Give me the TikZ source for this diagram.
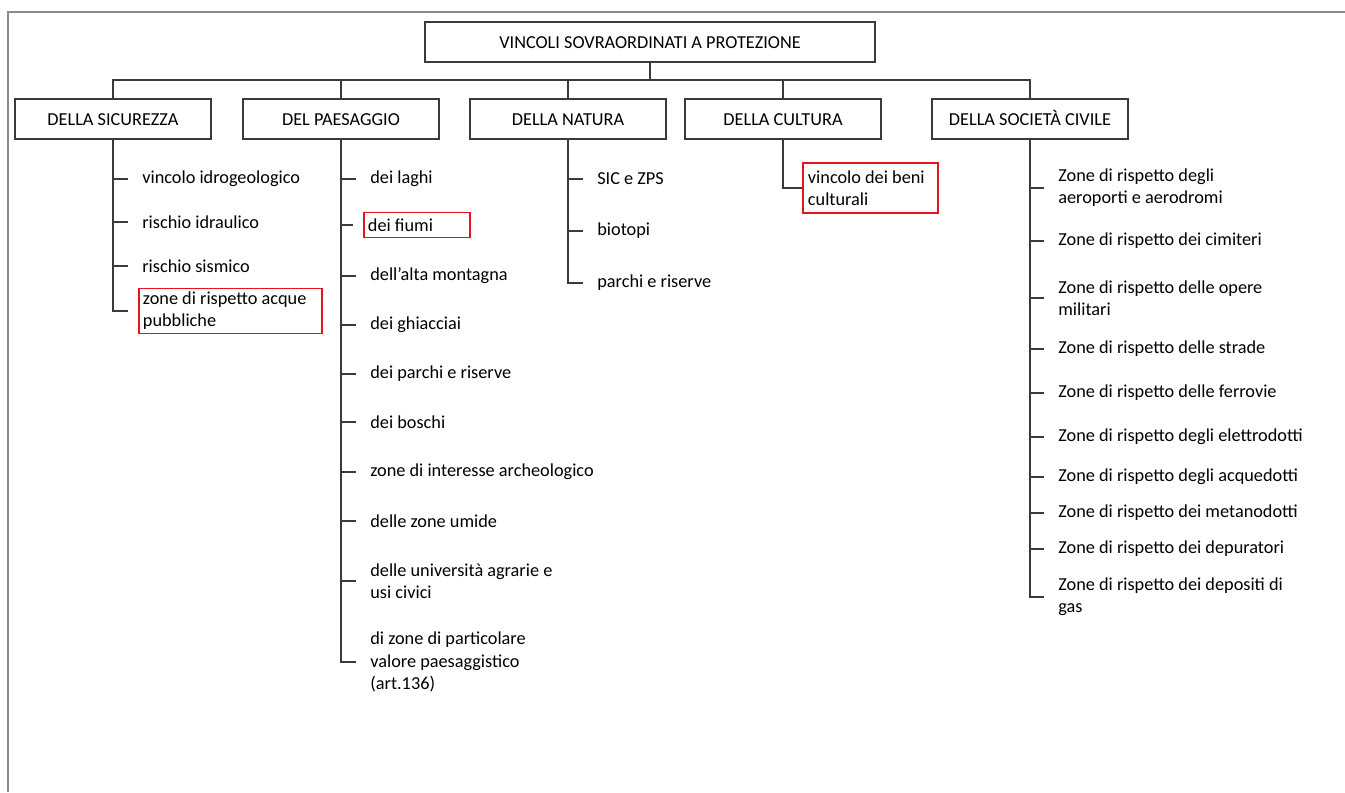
\documentclass[tikz,border=0pt]{standalone}
\usepackage{fontspec}
\setmainfont{Carlito}
\usepackage{tikz}
\usetikzlibrary{positioning}
\definecolor{LineDark}{HTML}{3A3A3A}
\definecolor{FrameGray}{HTML}{8A8A8A}
\definecolor{MarkRed}{HTML}{E8141B}
\tikzset{
  cat/.style={
    rectangle, draw=LineDark, line width=0.8pt,
    minimum width=3.92cm, minimum height=0.8cm,
    text height=6.9pt, text depth=0pt,
    inner sep=0pt, font=\fontsize{10.4}{12.6}\selectfont
  },
  item/.style={
    anchor=west, align=left, inner xsep=0.08cm, inner ysep=0pt,
    font=\fontsize{10.4}{12.6}\selectfont
  },
  hl/.style={item, draw=MarkRed, line width=1.1pt, text width=#1, align=flush left},
  link/.style={draw=LineDark, line width=1pt},
  frame/.style={draw=FrameGray, line width=1.1pt},
}
\begin{document}
\begin{tikzpicture}[x=0.02cm, y=-0.02cm]
\useasboundingbox (0,0) rectangle (1345,792);

% page frame
\draw[frame] (1345,12) -- (8,12) -- (8,792);

% root and categories
\node[cat, minimum width=9cm] at (650,42) (root) {VINCOLI SOVRAORDINATI A PROTEZIONE};
\node[cat] at (113,119) (sic) {DELLA SICUREZZA};
\node[cat] at (341,119) (pae) {DEL PAESAGGIO};
\node[cat] at (568,119) (nat) {DELLA NATURA};
\node[cat] at (783,119) (cul) {DELLA CULTURA};
\node[cat] at (1030,119) (soc) {DELLA SOCIETÀ CIVILE};

\coordinate (bus) at (650,80);
\draw[link] (root.south) -- (bus);
\draw[link] (sic.north) -- (sic.north |- bus) -- (soc.north |- bus) -- (soc.north);
\foreach \n in {pae,nat,cul}
  \draw[link] (\n.north) -- (\n.north |- bus);

% della sicurezza
\node[item] at (138,179) (s1) {vincolo idrogeologico};
\node[item] at (138,222) (s2) {rischio idraulico};
\node[item] at (138,266) (s3) {rischio sismico};
\node[hl=3.5cm, minimum height=0.9cm] at (138,311) (s4) {zone di rispetto acque\\pubbliche};
\foreach \i in {1,2,3}
  \draw[link] (s\i.west -| sic.south) -- ([xshift=-0.2cm]s\i.west);
\draw[link] (sic.south) |- ([xshift=-0.2cm]s4.west);

% del paesaggio
\node[item] at (366,179) (p1) {dei laghi};
\node[hl=1.96cm, minimum height=0.5cm] at (363,225) (p2) {dei fiumi};
\node[item] at (366,276) (p3) {dell’alta montagna};
\node[item] at (366,325) (p4) {dei ghiacciai};
\node[item] at (366,374) (p5) {dei parchi e riserve};
\node[item] at (366,422) (p6) {dei boschi};
\node[item] at (366,472) (p7) {zone di interesse archeologico};
\node[item] at (366,521) (p8) {delle zone umide};
\node[item] at (366,581) (p9) {delle università agrarie e\\usi civici};
\node[item] at (366,662) (p10) {di zone di particolare\\valore paesaggistico\\(art.136)};
\foreach \i in {1,...,9}
  \draw[link] (p\i.west -| pae.south) -- ([xshift=-0.2cm]p\i.west);
\draw[link] (pae.south) |- ([xshift=-0.2cm]p10.west);

% della natura
\node[item] at (593,179) (n1) {SIC e ZPS};
\node[item] at (593,231) (n2) {biotopi};
\node[item] at (593,283) (n3) {parchi e riserve};
\foreach \i in {1,2}
  \draw[link] (n\i.west -| nat.south) -- ([xshift=-0.2cm]n\i.west);
\draw[link] (nat.south) |- ([xshift=-0.2cm]n3.west);

% della cultura
\node[hl=2.5cm, minimum height=1cm, inner xsep=0.1cm] at (802,188) (c1) {vincolo dei beni\\culturali};
\draw[link] (cul.south) |- (c1.west);

% della societa civile
\node[item] at (1054,188) (v1) {Zone di rispetto degli\\aeroporti e aerodromi};
\node[item] at (1054,241) (v2) {Zone di rispetto dei cimiteri};
\node[item] at (1054,298) (v3) {Zone di rispetto delle opere\\militari};
\node[item] at (1054,349) (v4) {Zone di rispetto delle strade};
\node[item] at (1054,393) (v5) {Zone di rispetto delle ferrovie};
\node[item] at (1054,437) (v6) {Zone di rispetto degli elettrodotti};
\node[item] at (1054,477) (v7) {Zone di rispetto degli acquedotti};
\node[item] at (1054,513) (v8) {Zone di rispetto dei metanodotti};
\node[item] at (1054,549) (v9) {Zone di rispetto dei depuratori};
\node[item] at (1054,597) (v10) {Zone di rispetto dei depositi di\\gas};
\foreach \i in {1,...,9}
  \draw[link] (v\i.west -| soc.south) -- ([xshift=-0.2cm]v\i.west);
\draw[link] (soc.south) |- ([xshift=-0.2cm]v10.west);

\end{tikzpicture}
\end{document}
